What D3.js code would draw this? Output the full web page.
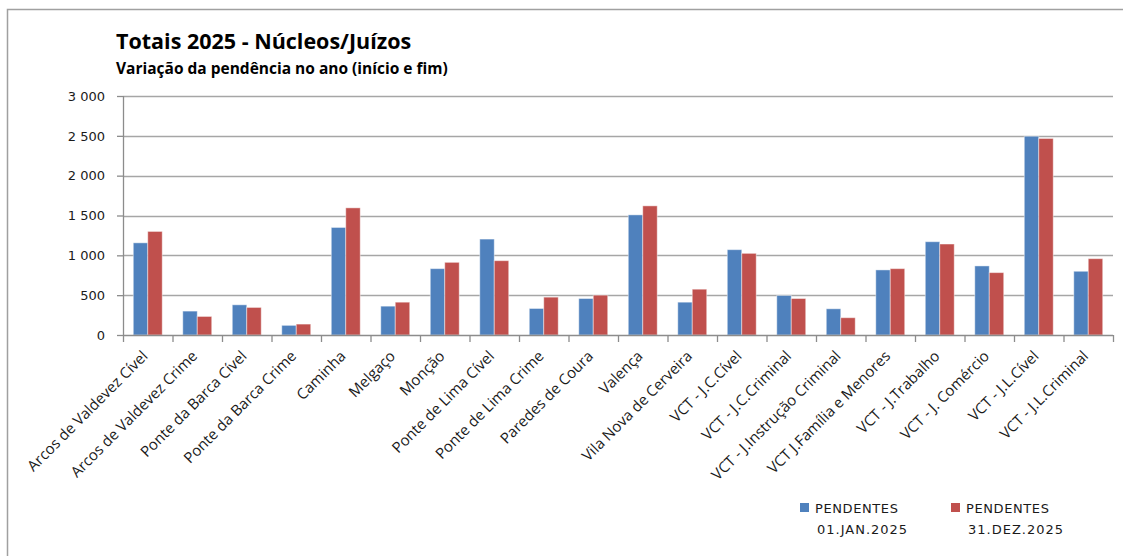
<!DOCTYPE html>
<html>
<head>
<meta charset="utf-8">
<script src="https://cdn.jsdelivr.net/npm/d3@7"></script>
<style>
  body { margin: 0; background: #fff; }
  svg { display: block; }
</style>
</head>
<body>
<div id="chart"></div>
<script>
// valores
const categories = [
    "Arcos de Valdevez Cível", "Arcos de Valdevez Crime", "Ponte da Barca Cível",
    "Ponte da Barca Crime", "Caminha", "Melgaço", "Monção", "Ponte de Lima Cível",
    "Ponte de Lima Crime", "Paredes de Coura", "Valença", "Vila Nova de Cerveira",
    "VCT - J.C.Cível", "VCT - J.C.Criminal", "VCT - J.Instrução Criminal",
    "VCT J.Família e Menores", "VCT - J.Trabalho", "VCT - J. Comércio",
    "VCT - J.L.Cível", "VCT - J.L.Criminal"
]
const pendentesInicio = [1157, 300, 379, 121, 1350, 362, 833, 1204, 333, 458, 1508, 412, 1071, 496, 329, 817, 1171, 867, 2495, 800]
const pendentesFim = [1300, 233, 346, 137, 1596, 412, 912, 933, 475, 500, 1621, 575, 1025, 458, 217, 833, 1142, 783, 2467, 958]
const seriesNames = [["PENDENTES", "01.JAN.2025"], ["PENDENTES", "31.DEZ.2025"]]
const seriesColors = ["#4f81bd", "#c0504d"]
const yTicks = [0, 500, 1000, 1500, 2000, 2500, 3000]

const width = 1123, height = 556
const margin = { top: 96, right: 10, bottom: 221, left: 123 }
const plotW = 1113 - margin.left
const plotH = 335 - margin.top

const svg = d3.select("#chart").append("svg")
    .attr("width", width)
    .attr("height", height)

// moldura
svg.append("path")
    .attr("d", "M7.5,556 V9.5 H1123")
    .attr("fill", "none")
    .attr("stroke", "#a0a0a0")
    .attr("stroke-width", 1.5)

svg.append("text")
    .attr("x", 116).attr("y", 49)
    .style("font-family", "'Open Sans', Lato, sans-serif")
    .style("font-weight", "bold")
    .style("font-size", "21.5px")
    .style("fill", "#000")
    .text("Totais 2025 - Núcleos/Juízos")

svg.append("text")
    .attr("x", 116).attr("y", 74)
    .style("font-family", "'Open Sans', Lato, sans-serif")
    .style("font-weight", "bold")
    .style("font-size", "15.5px")
    .style("fill", "#000")
    .text("Variação da pendência no ano (início e fim)")

const g = svg.append("g")
    .attr("transform", "translate(" + margin.left + "," + margin.top + ")")

const x0 = d3.scaleBand().domain(categories).range([0, plotW]).padding(0)
const x1 = d3.scaleBand().domain([0, 1]).range([0, x0.bandwidth()]).paddingInner(0).paddingOuter(0.71)
const y = d3.scaleLinear().domain([0, 3000]).range([plotH, 0])

const locale = d3.formatLocale({ decimal: ",", thousands: " ", grouping: [3], currency: ["", "€"] })
const fmt = locale.format(",d")

// grelha
g.append("g")
    .selectAll("line")
    .data(yTicks.filter(function (d) { return d > 0 }))
    .enter().append("line")
    .attr("x1", 0).attr("x2", plotW)
    .attr("y1", function (d) { return Math.round(y(d)) + 0.5 })
    .attr("y2", function (d) { return Math.round(y(d)) + 0.5 })
    .attr("stroke", "#a6a6a6")
    .attr("stroke-width", 1.4)

// barras
const rows = categories.map(function (c, i) { return { cat: c, values: [pendentesInicio[i], pendentesFim[i]] } })
const groups = g.append("g")
    .selectAll("g")
    .data(rows)
    .enter().append("g")
    .attr("transform", function (d) { return "translate(" + x0(d.cat) + ",0)" })

groups.selectAll("rect")
    .data(function (d) { return d.values.map(function (v, s) { return { s: s, v: v } }) })
    .enter().append("rect")
    .attr("x", function (d) { return x1(d.s) })
    .attr("width", x1.bandwidth())
    .attr("y", function (d) { return y(d.v) })
    .attr("height", function (d) { return plotH - y(d.v) })
    .attr("fill", function (d) { return seriesColors[d.s] })
    .attr("stroke", "rgba(255,255,255,0.45)")
    .attr("stroke-width", 1)

// eixo y
const yAxis = d3.axisLeft(y).tickValues(yTicks).tickFormat(fmt).tickSize(6).tickPadding(12)
const ya = g.append("g").call(yAxis)
ya.select(".domain").attr("stroke", "#8c8c8c").attr("stroke-width", 1.3).attr("d", "M0.5,0V" + (plotH + 7))
ya.selectAll(".tick line").attr("stroke", "#8c8c8c").attr("stroke-width", 1.3)
ya.selectAll(".tick text")
    .style("font-family", "'DejaVu Sans', Verdana, sans-serif")
    .style("font-size", "13px")
    .style("fill", "#1a1a1a")

// eixo x
g.append("line")
    .attr("x1", 0).attr("x2", plotW)
    .attr("y1", plotH + 0.5).attr("y2", plotH + 0.5)
    .attr("stroke", "#8c8c8c").attr("stroke-width", 1.3)

g.append("g")
    .selectAll("line")
    .data(categories)
    .enter().append("line")
    .attr("x1", function (d) { return x0(d) + x0.bandwidth() + 0.5 })
    .attr("x2", function (d) { return x0(d) + x0.bandwidth() + 0.5 })
    .attr("y1", plotH).attr("y2", plotH + 7)
    .attr("stroke", "#8c8c8c").attr("stroke-width", 1.3)

g.append("g")
    .selectAll("text")
    .data(categories)
    .enter().append("text")
    .attr("transform", function (d) {
        return "translate(" + (x0(d) + x0.bandwidth() / 2 + 1) + "," + (plotH + 22) + ") rotate(-45)"
    })
    .attr("text-anchor", "end")
    .style("font-family", "'Open Sans', Lato, sans-serif")
    .style("font-size", "15px")
    .style("fill", "#1a1a1a")
    .text(function (d) { return d })

// legenda
const legendX = [800, 951]
const legend = svg.append("g")
    .selectAll("g")
    .data(seriesNames)
    .enter().append("g")
    .attr("transform", function (d, i) { return "translate(" + legendX[i] + ",503)" })

legend.append("rect")
    .attr("width", 9).attr("height", 9)
    .attr("fill", function (d, i) { return seriesColors[i] })

legend.append("text")
    .attr("x", 15).attr("y", 10)
    .style("font-family", "'DejaVu Sans', Verdana, sans-serif")
    .style("font-size", "13px")
    .style("letter-spacing", "0.6px")
    .style("fill", "#1a1a1a")
    .text(function (d) { return d[0] })

legend.append("text")
    .attr("x", 17).attr("y", 31)
    .style("font-family", "'DejaVu Sans', Verdana, sans-serif")
    .style("font-size", "13px")
    .style("letter-spacing", "1px")
    .style("fill", "#1a1a1a")
    .text(function (d) { return d[1] })
</script>
</body>
</html>
